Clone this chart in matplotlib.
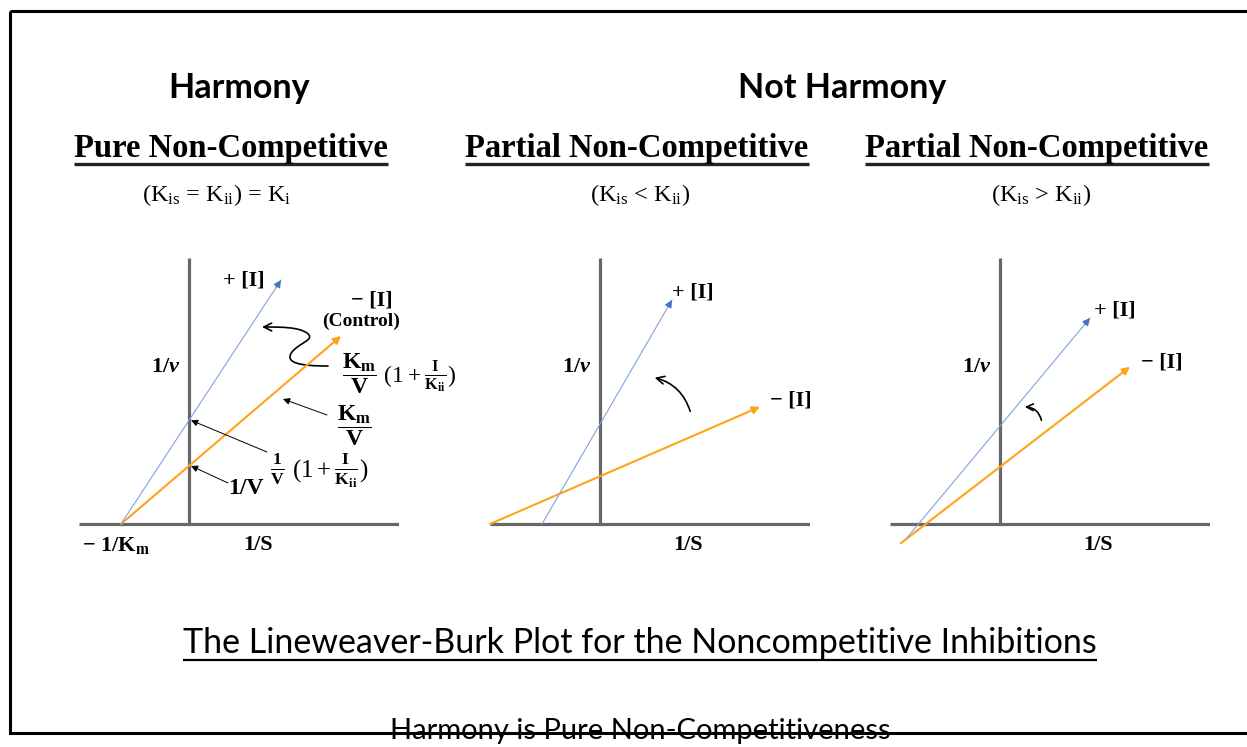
import numpy as np
import matplotlib
matplotlib.use('Agg')
import matplotlib.pyplot as plt
from matplotlib.patches import FancyArrowPatch, Rectangle
from matplotlib.path import Path

plt.rcParams.update({
    'mathtext.fontset': 'custom',
    'mathtext.rm': 'Liberation Serif',
    'mathtext.it': 'Liberation Serif:italic:bold',
    'mathtext.bf': 'Liberation Serif:bold',
})

W, H = 1247, 747
SANS = 'Lato'
SERIF = 'Liberation Serif'

# data: line end points in (1/S, 1/v) units, origin at the axis crossing
titles = ['Pure Non-Competitive', 'Partial Non-Competitive', 'Partial Non-Competitive']
subtitles = [r'(K$_{\rm is}$ = K$_{\rm ii}$) = K$_{\rm i}$',
             r'(K$_{\rm is}$ < K$_{\rm ii}$)',
             r'(K$_{\rm is}$ > K$_{\rm ii}$)']
inhib_x = [[-1.70, 2.30], [-1.45, 1.80], [-2.33, 2.25]]   # + [I]
inhib_y = [[0.00, 6.10], [0.00, 5.60], [-0.35, 5.15]]
ctrl_x = [[-1.70, 3.80], [-2.75, 4.00], [-2.48, 3.25]]    # - [I]
ctrl_y = [[0.00, 4.70], [0.00, 2.93], [-0.48, 3.93]]
origins_px = [189, 600, 1000]   # horizontal pixel position of each vertical axis
title_x = [231, 637, 1037]
subtitle_x = [217, 640, 1041]

fig = plt.figure(figsize=(W / 100, H / 100), dpi=100)
cv = fig.add_axes([0, 0, 1, 1])
cv.set_xlim(0, W)
cv.set_ylim(H, 0)
cv.axis('off')

BLUE = '#7ea3dd'
BLUE_HEAD = '#4472c4'
ORANGE = '#ffa31a'
GREY = '#676767'

axes = []
for i, ox in enumerate(origins_px):
    ax = fig.add_axes([(ox - 110) / W, 183 / H, 320 / W, 320 / H])
    ax.set_xlim(-2.75, 5.25)
    ax.set_ylim(-1, 7)
    ax.axis('off')
    ax.patch.set_visible(False)
    ax.plot([-2.75, 5.25], [0, 0], color=GREY, lw=2.3, solid_capstyle='butt', zorder=1)
    ax.plot([0, 0], [0, 6.65], color=GREY, lw=2.3, solid_capstyle='butt', zorder=1)
    ax.annotate('', xy=(ctrl_x[i][1], ctrl_y[i][1]), xytext=(ctrl_x[i][0], ctrl_y[i][0]),
                arrowprops=dict(arrowstyle='-|>', color=ORANGE, lw=1.5,
                                mutation_scale=11, shrinkA=0, shrinkB=0), zorder=3)
    ax.annotate('', xy=(inhib_x[i][1], inhib_y[i][1]), xytext=(inhib_x[i][0], inhib_y[i][0]),
                arrowprops=dict(arrowstyle='-', color=BLUE, lw=0.8,
                                shrinkA=0, shrinkB=0), zorder=3)
    # arrow head of the blue line
    dx = inhib_x[i][1] - inhib_x[i][0]
    dy = inhib_y[i][1] - inhib_y[i][0]
    ax.annotate('', xy=(inhib_x[i][1], inhib_y[i][1]),
                xytext=(inhib_x[i][1] - 0.03 * dx, inhib_y[i][1] - 0.03 * dy),
                arrowprops=dict(arrowstyle='-|>', color=BLUE_HEAD, lw=0.8,
                                mutation_scale=11, shrinkA=0, shrinkB=0), zorder=4)
    axes.append(ax)

# headers
cv.text(239, 88, 'Harmony', family=SANS, weight='bold', fontsize=24.5, ha='center', va='center')
cv.text(842, 88, 'Not Harmony', family=SANS, weight='bold', fontsize=24.5, ha='center', va='center')

title_objs = []
for i in range(3):
    t = cv.text(title_x[i], 148, titles[i], family=SERIF, weight='bold', fontsize=23.5,
                ha='center', va='center')
    title_objs.append(t)
    cv.text(subtitle_x[i], 195, subtitles[i], family=SERIF, fontsize=17.5,
            ha='center', va='center')

# panel labels
lab = dict(family=SERIF, weight='bold', fontsize=16, va='center')
for i, (xp, yp) in enumerate([(244, 280), (693, 292), (1115, 311)]):
    cv.text(xp, yp, '+ [I]', ha='center', **lab)
for xp in [166, 577, 977]:
    cv.text(xp, 367, r'1/$v$', ha='center', **lab)
for xp in [258, 688, 1098]:
    cv.text(xp, 545, '1/S', ha='center', **lab)
cv.text(791, 401, '− [I]', ha='center', **lab)
cv.text(1162, 362, '− [I]', ha='center', **lab)
cv.text(372, 301, '− [I]', ha='center', **lab)
cv.text(361, 321, '(Control)', ha='center', family=SERIF, weight='bold', fontsize=14, va='center')
cv.text(116, 546, r'− 1/K$_{\mathbf{m}}$', ha='center', **lab)
cv.text(246, 488, '1/V', ha='center', family=SERIF, weight='bold', fontsize=17, va='center')

frac = dict(ha='center', va='center', fontsize=17)
cv.text(399, 374, r'$\dfrac{\mathbf{K_m}}{\mathbf{V}}\ (1+\frac{\mathbf{I}}{\mathbf{K_{ii}}})$', **frac)
cv.text(354, 426, r'$\dfrac{\mathbf{K_m}}{\mathbf{V}}$', **frac)
cv.text(319, 471, r'$\frac{\mathbf{1}}{\mathbf{V}}\ (1+\frac{\mathbf{I}}{\mathbf{K_{ii}}})$',
        ha='center', va='center', fontsize=18)

# pointer arrows in panel 1, tips on the intercepts / control line
ax1 = axes[0]
b_icpt = inhib_y[0][0] - inhib_x[0][0] * (inhib_y[0][1] - inhib_y[0][0]) / (inhib_x[0][1] - inhib_x[0][0])
c_icpt = ctrl_y[0][0] - ctrl_x[0][0] * (ctrl_y[0][1] - ctrl_y[0][0]) / (ctrl_x[0][1] - ctrl_x[0][0])
pk = dict(arrowstyle='-|>', color='black', lw=0.7, mutation_scale=10, shrinkA=0, shrinkB=0)
ax1.annotate('', xy=(0.05, b_icpt), xycoords='data', xytext=(267, 452),
             textcoords=cv.transData, arrowprops=pk)
ax1.annotate('', xy=(0.05, c_icpt), xycoords='data', xytext=(228, 483),
             textcoords=cv.transData, arrowprops=pk)
ax1.annotate('', xy=(283, 399), xycoords=cv.transData, xytext=(327, 415),
             textcoords=cv.transData, arrowprops=pk)

# wavy arrow toward the + [I] line
verts = [(328, 366), (300, 366), (284, 363), (292, 352),
         (300, 342), (316, 340), (307, 333),
         (298, 327), (282, 327), (262, 327)]
codes = [Path.MOVETO] + [Path.CURVE4] * 9
cv.add_patch(FancyArrowPatch(path=Path(verts, codes), arrowstyle='->', color='black',
                             lw=1.2, mutation_scale=14, transform=cv.transData))

# curved arrows in panels 2 and 3
cv.add_patch(FancyArrowPatch((691, 414), (652, 377), connectionstyle='arc3,rad=0.3',
                             arrowstyle='->', color='black', lw=1.2, mutation_scale=14))
cv.add_patch(FancyArrowPatch((1042, 423), (1022, 407), connectionstyle='arc3,rad=0.45',
                             arrowstyle='->', color='black', lw=1.2, mutation_scale=12))

# bottom title and footer
bt = cv.text(640, 643, 'The Lineweaver-Burk Plot for the Noncompetitive Inhibitions',
             family=SANS, fontsize=24.5, ha='center', va='center')
cv.text(640, 731, 'Harmony is Pure Non-Competitiveness', family=SANS, fontsize=21,
        ha='center', va='center', zorder=2)

# border
cv.add_patch(Rectangle((10, 11), 1250, 722, fill=False, ec='black', lw=2.2, zorder=5))

# underlines from the rendered text extents
fig.canvas.draw()
for t in title_objs:
    bb = t.get_window_extent()
    cv.plot([bb.x0, bb.x1], [164, 164], color='#222222', lw=2.4, solid_capstyle='butt')
bb = bt.get_window_extent()
cv.plot([bb.x0, bb.x1], [660, 660], color='black', lw=1.6, solid_capstyle='butt')

fig.savefig('out.png', dpi=100)
